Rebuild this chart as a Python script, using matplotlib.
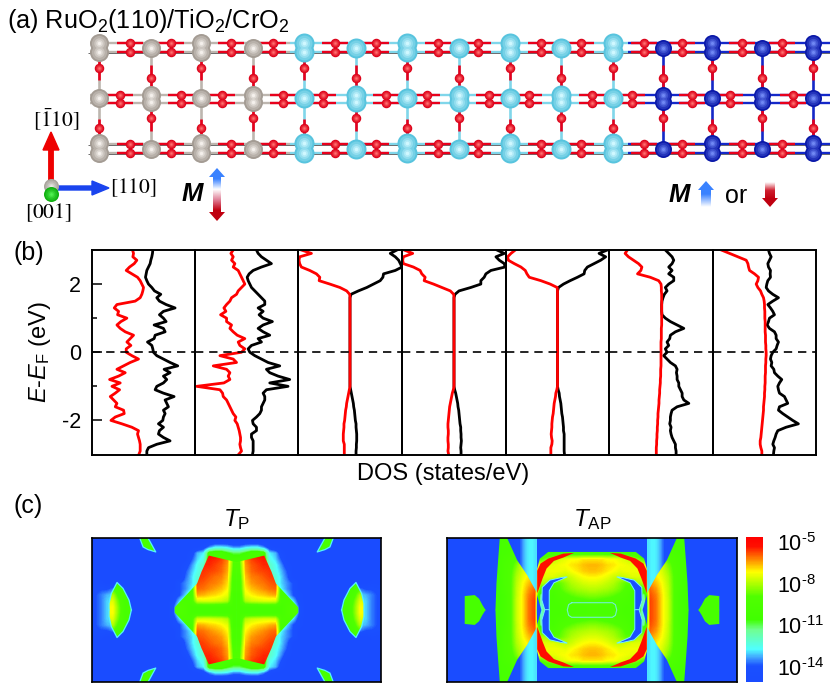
import numpy as np
import matplotlib
matplotlib.use("Agg")
import matplotlib.pyplot as plt
from matplotlib.colors import LinearSegmentedColormap, Normalize, to_rgb
from matplotlib.patches import Polygon

plt.rcParams.update({
    "font.family": "Liberation Sans", "mathtext.fontset": "custom",
    "mathtext.rm": "Liberation Sans", "mathtext.it": "Liberation Sans:italic",
    "mathtext.bf": "Liberation Sans:bold", "axes.unicode_minus": False,
    "mathtext.default": "regular"})

# ---------- panel (b): DOS, energies from +3 to -3 eV, arbitrary DOS units
ENERGY = [3.0,2.9,2.8,2.7,2.6,2.5,2.4,2.3,2.2,2.1,2.0,1.9,1.8,1.7,1.6,1.5,1.4,1.3,1.2,1.1,
          1.0,0.9,0.8,0.7,0.6,0.5,0.4,0.3,0.2,0.1,0.0,
          -0.1,-0.2,-0.3,-0.4,-0.5,-0.6,-0.7,-0.8,-0.9,-1.0,-1.1,-1.2,-1.3,-1.4,-1.5,-1.6,-1.7,-1.8,-1.9,
          -2.0,-2.1,-2.2,-2.3,-2.4,-2.5,-2.6,-2.7,-2.8,-2.9,-3.0]
P1_BLACK = [28,27,25,22,20,15,10,8,6,10,15,25,33,52,40,48,68,95,60,48,60,68,32,60,65,35,32,12,25,28,30,
            40,60,80,103,62,80,60,70,60,40,35,60,92,65,70,75,60,65,60,58,45,60,48,45,60,80,40,15,10,10]
P1_RED = [-33,-30,-32,-20,-28,-42,-52,-35,-18,-10,-5,0,-2,-5,-10,-25,-80,-88,-75,-78,-50,-68,-80,-70,-55,-30,-40,-50,-38,-52,-52,
          -35,-15,-40,-60,-80,-55,-75,-102,-70,-95,-72,-85,-100,-90,-80,-85,-60,-58,-85,-98,-65,-35,-15,-18,-15,-12,-10,-10,-10,-14]
P2_BLACK = [30,35,45,60,75,45,20,8,2,5,10,15,25,35,45,55,55,35,50,38,50,78,50,35,50,70,35,45,15,5,10,
            25,45,65,100,60,70,95,130,70,125,60,50,55,55,50,45,45,40,30,18,20,30,30,15,15,20,20,20,20,18]
P2_RED = [-40,-47,-40,-45,-35,-40,-25,-20,-15,-10,-5,-15,-25,-30,-45,-50,-60,-68,-62,-78,-60,-60,-45,-50,-40,-28,-5,-25,-20,-5,-15,
          -80,-40,-30,-100,-60,-50,-55,-50,-68,-150,-80,-72,-70,-60,-55,-50,-45,-40,-32,-35,-28,-25,-22,-20,-18,-18,-20,-18,-15,-24]
P3_BLACK = [140,120,135,145,150,155,135,100,98,90,70,50,25,3,0,0,0,0,0,0,0,0,0,0,0,0,0,0,0,0,0,
            0,0,0,0,0,0,0,0,0,0,2,4,6,8,10,11,13,14,15,16,18,18,19,20,20,20,19,19,18,18]
P3_RED = [-145,-115,-150,-152,-150,-145,-120,-100,-90,-92,-60,-30,-10,-1,0,0,0,0,0,0,0,0,0,0,0,0,0,0,0,0,0,
          0,0,0,0,0,0,0,0,0,0,-2,-4,-6,-8,-10,-11,-13,-14,-15,-16,-18,-18,-19,-20,-20,-20,-17,-17,-17,-17]
P4_BLACK = [128,150,125,135,150,152,110,95,90,80,80,50,15,3,0,0,0,0,0,0,0,0,0,0,0,0,0,0,0,0,0,
            0,0,0,0,0,0,0,0,0,0,2,5,7,9,11,12,14,15,16,17,18,20,20,21,21,22,21,20,21,21]
P4_RED = [-149,-123,-151,-153,-151,-121,-101,-96,-86,-89,-61,-36,-11,-1,0,0,0,0,0,0,0,0,0,0,0,0,0,0,0,0,0,
          0,0,0,0,0,0,0,0,0,0,-2,-5,-7,-9,-11,-13,-14,-15,-16,-17,-18,-18,-17,-17,-18,-18,-17,-17,-18,-16]
P5_BLACK = [150,125,145,130,110,90,82,80,60,38,18,3,0,0,0,0,0,0,0,0,0,0,0,0,0,0,0,0,0,0,0,
            0,0,0,0,0,0,0,0,0,0,2,5,6,8,10,11,12,13,15,16,17,18,18,20,20,20,20,20,20,21]
P5_RED = [-127,-140,-150,-148,-130,-110,-97,-92,-85,-50,-22,-1,0,0,0,0,0,0,0,0,0,0,0,0,0,0,0,0,0,0,0,
          0,0,0,0,0,0,0,0,0,0,-2,-5,-6,-8,-10,-11,-12,-13,-15,-16,-17,-17,-18,-19,-18,-16,-17,-20,-20,-20]
P6_BLACK = [13,23,33,38,33,23,33,23,38,38,23,13,18,10,6,3,2,2,2,3,13,28,48,68,43,28,26,18,23,13,18,
            8,18,28,43,48,46,48,48,53,53,58,63,63,68,83,48,33,30,28,28,26,30,28,30,33,38,43,43,45,45]
P6_RED = [-100,-107,-97,-82,-67,-57,-60,-70,-32,-7,0,1,1,2,2,2,2,2,2,2,2,2,2,1,1,1,1,0,0,0,0,
          0,0,0,0,-1,-1,-1,-2,-2,-3,-4,-4,-5,-6,-6,-7,-8,-9,-9,-10,-10,-11,-11,-12,-12,-13,-13,-14,-14,-14]
P7_BLACK = [12,15,20,15,10,12,18,17,18,10,7,5,12,25,42,25,10,18,25,30,15,12,8,15,30,35,35,42,38,35,25,
            20,18,22,20,28,30,40,52,45,40,42,45,60,65,70,45,42,55,70,85,102,65,40,35,32,28,25,30,28,27]
P7_RED = [-130,-105,-80,-55,-50,-48,-45,-30,-18,-20,-25,-20,-12,-8,-3,-1,0,0,1,1,1,2,2,2,2,3,3,3,4,4,5,
          5,4,4,3,3,3,2,2,2,1,1,0,0,-1,-2,-3,-3,-4,-5,-6,-7,-8,-9,-10,-11,-13,-13,-11,-8,-8]
DOS_BLACK = [P1_BLACK, P2_BLACK, P3_BLACK, P4_BLACK, P5_BLACK, P6_BLACK, P7_BLACK]
DOS_RED = [P1_RED, P2_RED, P3_RED, P4_RED, P5_RED, P6_RED, P7_RED]
ENERGY_TICKS = [-2, 0, 2]
ENERGY_MINOR = [-1, 1]

# ---------- panel (c): log10 transmission, upper-left quadrant (mirrored to the others)
TP_BACK = [
 [-15,-15,-15,-15,-15,-15,-15,-15,-15,-15,-15,-15,-15,-15,-15,-15,-15,-15,-15,-15,-15,-15,-15,-15],
 [-15,-15,-15,-15,-15,-15,-15,-15,-15,-15,-15,-15,-15,-15,-15,-15,-15,-15,-14.5,-13.5,-12.8,-12.8,-13,-13.5],
 [-15,-15,-15,-15,-15,-15,-15,-15,-15,-15,-15,-15,-15,-15,-15,-15,-14.5,-13.2,-12.8,-10,-9.8,-9.8,-10.5,-11],
 [-15,-15,-15,-15,-15,-15,-15,-15,-15,-15,-15,-15,-15,-15,-15,-15,-14,-13,-12.5,-9.8,-9.8,-9.8,-9.8,-9.8],
 [-15,-15,-15,-15,-15,-15,-15,-15,-15,-15,-15,-15,-15,-15,-15,-14.5,-13.5,-12.6,-12,-9.8,-9.8,-9.8,-9.8,-9.8],
 [-15,-15,-15,-15,-15,-15,-15,-15,-15,-15,-15,-15,-15,-15,-15,-14,-13.2,-12.5,-12,-12,-12,-12,-12,-12],
 [-15,-15,-15,-15,-15,-15,-15,-15,-15,-15,-15,-15,-15,-15,-15,-13.8,-13,-12.2,-12,-12,-12,-12,-12,-12],
 [-14.6,-14.6,-15,-15,-15,-15,-15,-15,-15,-15,-15,-15,-15,-15,-14,-13.5,-13,-12.2,-12,-12,-12,-12,-12,-12],
 [-14.2,-14,-14,-13.6,-15,-15,-15,-15,-15,-15,-15,-15,-15,-15,-14,-13.5,-12.8,-12,-12,-12,-12,-12,-12,-12],
 [-14,-13.6,-13.2,-13,-13,-15,-15,-15,-15,-15,-15,-15,-15,-14.5,-14,-13,-12,-12,-12,-12,-12,-12,-12,-12],
 [-14,-13.6,-13,-12.9,-13,-13.5,-15,-15,-15,-15,-15,-15,-15,-14.5,-13,-12,-12,-12,-12,-12,-12,-12,-12,-12],
 [-14,-13.6,-13,-12.9,-13,-13.5,-15,-15,-15,-15,-15,-15,-15,-14,-12,-12,-12,-12,-12,-12,-12,-12,-12,-12],
]
TP_FRONT = [
 [-9.8,-9.8,-9.8,-9.8,-9.8,-9.8,-9.8,-9.8,-9.8,-9.8,-9.8,-9.8,-9.8,-9.8,-9.8,-9.8,-9.8,-9.8,-5.3,-5.2,-5.3,-5.4,-6,-8.6],
 [-9.8,-9.8,-9.8,-9.8,-9.8,-9.8,-9.8,-9.8,-9.8,-9.8,-9.8,-9.8,-9.8,-9.8,-9.8,-9.8,-9.8,-9.8,-5.3,-5.2,-5.3,-5.4,-6,-8.6],
 [-9.8,-9.8,-9.8,-9.8,-9.8,-9.8,-9.8,-9.8,-9.8,-9.8,-9.8,-9.8,-9.8,-9.8,-9.8,-9.8,-9.8,-9.8,-5.3,-5.2,-5.3,-5.4,-6,-8.6],
 [-9.8,-9.8,-9.8,-9.8,-9.8,-9.8,-9.8,-9.8,-9.8,-9.8,-9.8,-9.8,-9.8,-9.8,-9.8,-9.8,-9.8,-5.5,-5.5,-5.4,-5.5,-5.7,-6.2,-8.8],
 [-9.8,-9.8,-9.8,-9.8,-9.8,-9.8,-9.8,-9.8,-9.8,-9.8,-9.8,-9.8,-9.8,-9.8,-9.8,-9.8,-9.8,-5.5,-5.5,-5.5,-5.7,-5.9,-6.4,-9],
 [-9.8,-9.8,-9.8,-9.8,-9.8,-9.8,-9.8,-9.8,-9.8,-9.8,-9.8,-9.8,-9.8,-9.8,-9.8,-9.8,-9.8,-5.6,-5.6,-5.7,-5.8,-6,-6.5,-9.2],
 [-9.8,-9.8,-9.8,-9.8,-9.8,-9.8,-9.8,-9.8,-9.8,-9.8,-9.8,-9.8,-9.8,-9.8,-9.8,-9.8,-9.8,-5.6,-5.7,-5.9,-6.1,-6.2,-6.7,-9.4],
 [-9.8,-9.8,-9.8,-9.8,-9.8,-9.8,-9.8,-9.8,-9.8,-9.8,-9.8,-9.8,-9.8,-9.8,-9.8,-9.8,-9.8,-5.8,-5.9,-6.1,-6.2,-6.4,-6.9,-9.6],
 [-9.8,-9.8,-9,-9,-9.8,-9.8,-9.8,-9.8,-9.8,-9.8,-9.8,-9.8,-9.8,-9.8,-9.8,-9.8,-9.8,-6,-6.1,-6.3,-6.5,-6.7,-7.1,-9.6],
 [-9.8,-9.8,-8,-8,-9.3,-9.8,-9.8,-9.8,-9.8,-9.8,-9.8,-9.8,-9.8,-9.8,-9.8,-9.8,-9.8,-6.5,-6.6,-6.8,-6.9,-7.1,-7.4,-9.8],
 [-9.8,-9.8,-7.4,-7.5,-8.8,-9.8,-9.8,-9.8,-9.8,-9.8,-9.8,-9.8,-9.8,-9.5,-9.5,-9.5,-9.5,-7.6,-7.5,-7.5,-7.6,-7.7,-8,-9.8],
 [-9.8,-9.8,-7.2,-7.2,-8.6,-9.8,-9.8,-9.8,-9.8,-9.8,-9.8,-9.8,-9.8,-9,-9,-9.3,-9.8,-9.8,-9.8,-9.8,-9.8,-9.8,-9.8,-9.8],
]
TAP_FRONT = [
 [-9.8,-9.8,-9.8,-9.8,-9.8,-9.8,-9.8,-9.8,-10,-9.8,-9.8,-9.8,-9.8,-9.8,-9.8,-9.8,-9.8,-9.8,-9.5,-9.5,-9.5,-9.5,-9.5,-9.5],
 [-9.8,-9.8,-9.8,-9.8,-9.8,-9.8,-9.8,-9.8,-10,-9.8,-9.8,-9.8,-9.8,-9.8,-9.8,-9.8,-9.8,-9.8,-9.5,-9.5,-9.5,-9.5,-9.5,-9.5],
 [-9.8,-9.8,-9.8,-9.8,-9.8,-9.8,-9.8,-9.8,-10,-9.8,-9.6,-9.3,-9,-8.8,-8.5,-9.8,-9.8,-9.8,-9.5,-9.5,-9.5,-9.5,-9.5,-9.5],
 [-9.8,-9.8,-9.8,-9.8,-9.8,-9.8,-9.8,-9.8,-10,-9.6,-9.3,-9,-8.4,-8,-7.6,-9,-8.5,-8,-7.6,-7.4,-7.2,-7.2,-7,-7],
 [-9.8,-9.8,-9.8,-9.8,-9.8,-9.8,-9.8,-9.8,-10,-9.5,-9.2,-8.5,-7.6,-7.2,-7,-7.5,-7.4,-7.4,-7.3,-7.2,-7,-6.9,-6.7,-6.6],
 [-9.8,-9.8,-9.8,-9.8,-9.8,-9.8,-9.8,-9.8,-10,-9.5,-9.1,-8.2,-7.6,-7.1,-6.8,-7.4,-7.3,-7.3,-7.3,-7.4,-7.2,-7,-6.8,-6.7],
 [-9.8,-9.8,-9.8,-9.8,-9.8,-9.8,-9.8,-9.8,-10.2,-9.5,-9,-8,-7.4,-7,-6.6,-7.5,-7.5,-7.5,-7.7,-7.8,-7.7,-7.4,-7.2,-7.1],
 [-9.8,-9.8,-9.8,-9.8,-9.8,-9.8,-9.8,-9.8,-10.3,-9.5,-9,-7.9,-7.2,-6.7,-6.3,-8,-8,-8.8,-8.8,-8.4,-8,-7.8,-7.6,-7.5],
 [-9.8,-9.8,-9.8,-9.8,-9.8,-9.8,-9.8,-9.8,-10.3,-9.6,-9,-7.8,-7.1,-6.4,-6,-9,-9,-9.5,-9,-8.6,-8.3,-8.1,-8,-7.9],
 [-9.8,-9.8,-9.8,-9.8,-9.8,-9.8,-9.8,-9.8,-10.4,-9.8,-9,-7.8,-7,-6.2,-5.8,-11.5,-9.5,-9.8,-9.3,-9,-8.8,-8.6,-8.5,-8.4],
 [-9.8,-9.8,-9.8,-9.8,-9.8,-9.8,-9.8,-9.8,-10.5,-9.8,-9,-7.7,-7,-6.1,-5.7,-12,-9.8,-9.8,-9.6,-9.4,-9.3,-9.2,-9.1,-9],
 [-9.8,-9.8,-9.8,-9.8,-9.8,-9.8,-9.8,-9.8,-10.5,-9.8,-9,-7.7,-7,-6.1,-5.7,-12.5,-9.8,-9.8,-9.8,-9.6,-9.6,-9.6,-9.6,-9.5],
]
TAP_BAND = [[-14.6, -14.4, -14.1, -13.7, -13.2, -12.9, -12.8, -12.8, -12.9]]
TAP_FLOOR = -15
# sharp-edged regions of the upper-left quadrant (3x picture pixels)
TP_REGIONS = [
    [(387,166),(471,186),(471,331),(285,331),(285,322),(352,250),(365,215)],
    [(112,247),(95,280),(88,310),(88,331),(155,331),(148,300),(130,265)],
    [(180,113),(205,113),(228,155),(205,148),(190,140)],
]
TP_OUTLINED = [
    [(88,330),(88,310),(95,280),(112,247),(130,265),(148,300),(155,330)],
    [(180,113),(190,140),(205,148),(228,155),(205,113)],
]
TAP_REGIONS = [
    [(210,113),(232,113),(262,180),(292,225),(322,280),(320,331),(197,331),(200,250),(205,180)],
    [(320,280),(322,205),(330,175),(355,155),(487,155),(487,331),(335,331)],
    [(105,288),(135,285),(148,296),(158,315),(168,331),(105,331)],
]
TAP_CRESCENT = [(322,280),(322,212),(332,190),(355,175),(400,160),(432,158),(400,172),(372,182),(350,205),(338,235),(330,258)]
TAP_CRESCENT_VALUE = -5.2
TAP_STREAK = [(337,262),(360,240),(395,232),(412,230),(372,248),(358,272),(358,331),(345,331),(336,300)]
TAP_STREAK_VALUE = -14.2
TAP_RING = [(425,308),(547,308),(556,314),(560,330),(556,346),(547,352),(425,352),(416,346),(412,330),(416,314),(425,308)]
CBAR_TICKS = [-5, -8, -11, -14]
CBAR_LABELS = ["10$^{\\text{-5}}$", "10$^{\\text{-8}}$", "10$^{\\text{-11}}$", "10$^{\\text{-14}}$"]

# ---------- panel (a): atom columns of the slab, in picture pixels
RU_A, RU_B = [99, 201], [151, 253]
TI_A, TI_B = [304, 407, 510, 613], [356, 459, 561]
CR_A, CR_B = [712, 813], [663, 762]
A_Y, B_Y = [43, 52, 98, 143, 153], [48, 95, 102, 149]
O_OUTER_X = [130,171,231,273,335,376,438,478,541,581,644,682,742,782]
O_INNER_X = [120,181,222,283,323,386,427,489,529,592,632,692,730,793]
O_OUTER_Y = [43, 52, 144, 153]
O_INNER_Y = [95, 103]
O_VERT_A_Y = [68, 128]
O_VERT_B_Y = [78, 118]

W, H = 830, 697
fig = plt.figure(figsize=(W/100, H/100), dpi=100)
bg = fig.add_axes([0, 0, 1, 1])
bg.axis("off")

def lines(xs, ys, color, lw, z):
    bg.plot(xs, ys, color=color, lw=lw, zorder=z, solid_capstyle="butt")

RU_C, TI_C, CR_C, O_C = "#b5aea7", "#80d6ea", "#1428c8", "#e8001c"
for y in [43, 52, 95, 103, 144, 153]:
    lines([90, 290], [y, y], "#bdb6af", 1.7, 1)
    lines([290, 628], [y, y], TI_C, 1.7, 1)
    lines([628, 836], [y, y], CR_C, 1.7, 1)
for y in [52, 144, 153]:
    lines([88, 838], [y+0.8, y+0.8], "#555555", 0.6, 1.1)
for xs, ys in [(O_OUTER_X, O_OUTER_Y), (O_INNER_X, O_INNER_Y)]:
    for x in xs:
        for y in ys:
            lines([x-13, x+13], [y, y], O_C, 1.7, 1.2)
for cols, col in [(RU_A+RU_B, "#bdb6af"), (TI_A+TI_B, TI_C), (CR_A+CR_B, CR_C)]:
    for x in cols:
        lines([x, x], [48, 150], col, 1.9, 1)
for x in RU_A+TI_A+CR_A:
    for y in O_VERT_A_Y:
        lines([x, x], [y-9, y+12], O_C, 1.9, 1.2)
for x in RU_B+TI_B+CR_B:
    for y in O_VERT_B_Y:
        lines([x, x], [y-13, y+13], O_C, 1.9, 1.2)

def sphere(x, y, d, base, light, z):
    steps = [1.0, 0.8, 0.55, 0.35, 0.18]
    b, l = np.array(to_rgb(base)), np.array(to_rgb(light))
    for k, f in enumerate(steps):
        c = b + (l-b)*k/(len(steps)-1)
        bg.scatter([x], [y], s=(d*f*0.72)**2, color=[c], lw=0, zorder=z+k*0.01)

def metal(a, b, d, base, light):
    for x in b:
        for y in B_Y:
            sphere(x, y, d, base, light, 3)
    for x in a:
        for y in A_Y:
            sphere(x, y, d, base, light, 3)

O_BASE, O_LIGHT = "#dc0018", "#ff7070"
for xs, ys in [(O_OUTER_X, O_OUTER_Y), (O_INNER_X, O_INNER_Y)]:
    for x in xs:
        for y in ys:
            sphere(x, y, 9.5, O_BASE, O_LIGHT, 2)
for x in RU_A+TI_A+CR_A:
    for y in O_VERT_A_Y:
        sphere(x, y, 9.5, O_BASE, O_LIGHT, 2)
for x in RU_B+TI_B+CR_B:
    for y in O_VERT_B_Y:
        sphere(x, y, 9.5, O_BASE, O_LIGHT, 2)
metal(RU_A, RU_B, 19, "#a49c94", "#f4f0ec")
metal(TI_A, TI_B, 20, "#58c4de", "#d0f8ff")
metal(CR_A, CR_B, 17, "#0a18a8", "#7088f4")

bg.add_patch(Polygon([(48.8,188),(48.8,150),(43,150),(51,132),(59,150),(53.2,150),(53.2,188)], color="#ee0000", zorder=5))
bg.add_patch(Polygon([(51,186),(92,186),(92,181),(109,188),(92,195),(92,190),(51,190)], color="#1a44ee", zorder=5))
sphere(51, 186, 15, "#a8a49c", "#e8e8e4", 6)
sphere(51, 194, 15, "#10b010", "#50f050", 6.5)
for s, x, y in [(r"$\mathrm{[\bar{1}10]}$", 56, 120), (r"$\mathrm{[110]}$", 133, 188), (r"$\mathrm{[001]}$", 48, 213)]:
    bg.text(x, y, s, ha="center", va="center", fontsize=15.5, math_fontfamily="stix", zorder=7)

def grad_arrow(poly, ext, colors):
    cm = LinearSegmentedColormap.from_list("g", colors)
    im = bg.imshow(np.linspace(0, 1, 100)[:, None], extent=ext, cmap=cm, aspect="auto", zorder=5, origin="upper")
    p = Polygon(poly, transform=bg.transData, fc="none", ec="none")
    bg.add_patch(p)
    im.set_clip_path(p)

grad_arrow([(217,168),(225,177),(221,177),(221,212),(225,212),(217,221),(209,212),(213,212),(213,177),(209,177)],
           (209, 225, 221, 168), ["#3a82ff", "#3a82ff", "#ffffff", "#e08098", "#c00010", "#c00010"])
grad_arrow([(706,181),(714,190),(711,190),(711,207),(701,207),(701,190),(698,190)],
           (698, 714, 207, 181), ["#3a82ff", "#3a82ff", "#ffffff"])
grad_arrow([(770,207),(778,198),(775,198),(775,182),(765,182),(765,198),(762,198)],
           (762, 778, 207, 182), ["#ffffff", "#d02030", "#c00010", "#c00010"])
bg.set_xlim(0, W)
bg.set_ylim(H, 0)

bg.text(7, 21, "(a) RuO$_2$(110)/TiO$_2$/CrO$_2$", fontsize=18.2, ha="left", va="center")
bg.text(13, 253, "(b)", fontsize=18, ha="left", va="center")
bg.text(13, 506, "(c)", fontsize=18, ha="left", va="center")
for s, x, y in [("M", 192, 194), ("M", 679, 195)]:
    bg.text(x, y, s, fontsize=18.5, fontweight="bold", style="italic", ha="center", va="center")
bg.text(736, 196, "or", fontsize=18, ha="center", va="center")
bg.text(443, 474, "DOS (states/eV)", fontsize=17, ha="center", va="center")
bg.text(40, 352, "$\\mathit{E}$-$\\mathit{E}_{F}$ (eV)", fontsize=17, rotation=90, ha="center", va="center")
bg.text(237, 520, "$\\mathit{T}_{P}$", fontsize=17.5, ha="center", va="center")
bg.text(592, 520, "$\\mathit{T}_{AP}$", fontsize=17.5, ha="center", va="center")

def frac(x0, y0, x1, y1):
    return [x0/W, 1-y1/H, (x1-x0)/W, (y1-y0)/H]

edges = [92, 195, 298, 402, 506, 609, 713, 816]
for i, (black, red) in enumerate(zip(DOS_BLACK, DOS_RED)):
    ax = fig.add_axes(frac(edges[i], 250, edges[i+1], 454.5))
    ax.patch.set_alpha(0)
    ax.plot(black, ENERGY, color="black", lw=2.0, solid_joinstyle="round")
    ax.plot(red, ENERGY, color="#ff0000", lw=2.0, solid_joinstyle="round")
    ax.axhline(0, color="black", lw=1.2, dashes=(5, 3.5))
    ax.set_xlim(-155, 155)
    ax.set_ylim(-3, 3)
    ax.set_xticks([])
    for sp in ax.spines.values():
        sp.set_linewidth(1.4)
    if i == 0:
        ax.set_yticks(ENERGY_TICKS)
        ax.set_yticks(ENERGY_MINOR, minor=True)
        ax.tick_params(axis="y", which="major", direction="in", length=7, width=1.1, labelsize=15.5, pad=8)
        ax.tick_params(axis="y", which="minor", direction="in", length=3.5, width=1.1)
    else:
        ax.set_yticks([])

CMAP = LinearSegmentedColormap.from_list("t", [
    (0.0, "#1a4cff"), (0.11, "#1a50ff"), (0.167, "#40a0ff"), (0.225, "#50ffff"), (0.36, "#70ff90"),
    (0.43, "#40ff00"), (0.59, "#50ff00"), (0.68, "#b0ff00"), (0.76, "#ffff00"), (0.84, "#ff9000"),
    (0.935, "#ff1000"), (1.0, "#ff0000")], N=256)
VMIN, VMAX = -15.1, -4.64
NORM = Normalize(VMIN, VMAX)

def full_map(q):
    q = np.array(q, dtype=float)
    top = np.hstack([q, q[:, ::-1]])
    return np.vstack([top, top[::-1]])

def show(ax, grid, ext, z=1):
    return ax.imshow(grid, cmap=CMAP, norm=NORM, aspect="auto", extent=ext, zorder=z,
                     interpolation="bilinear", interpolation_stage="data")

def flips(poly, cx, cy=330):
    for sx in (1, -1):
        for sy in (1, -1):
            yield [(cx+sx*(x-cx), cy+sy*(y-cy)) for x, y in poly]

def clipped(ax, grid, ext, regions, cx):
    for poly in regions:
        for pts in flips(poly, cx):
            im = show(ax, grid, ext, 2)
            p = Polygon(pts, transform=ax.transData, fc="none", ec="none")
            ax.add_patch(p)
            im.set_clip_path(p)

def frame(ax, ext):
    ax.set_xlim(ext[0], ext[1])
    ax.set_ylim(ext[2], ext[3])
    ax.set_xticks([])
    ax.set_yticks([])
    for sp in ax.spines.values():
        sp.set_linewidth(1.2)
        sp.set_zorder(10)

# T_P
ext = (37, 903, 547, 113)
cx = 470
ax = fig.add_axes(frac(92, 538, 381, 682))
show(ax, full_map(TP_BACK), ext, 1)
clipped(ax, full_map(TP_FRONT), ext, TP_REGIONS, cx)
for line in TP_OUTLINED:
    for pts in flips(line, cx):
        ax.plot(*zip(*pts), color="#55f0ff", lw=0.9, zorder=3)
frame(ax, ext)

# T_AP
ext = (52, 920, 547, 113)
cx = 486
ax = fig.add_axes(frac(447, 538, 737, 682))
ax.set_facecolor(CMAP(NORM(TAP_FLOOR)))
band = np.array(TAP_BAND)
show(ax, band, (245, 320, 547, 113), 1)
show(ax, band[:, ::-1], (652, 727, 547, 113), 1)
clipped(ax, full_map(TAP_FRONT), ext, TAP_REGIONS, cx)
for pts in flips(TAP_CRESCENT, cx):
    ax.add_patch(Polygon(pts, fc=CMAP(NORM(TAP_CRESCENT_VALUE)), ec="none", zorder=3))
for pts in flips(TAP_STREAK, cx):
    ax.add_patch(Polygon(pts, fc=CMAP(NORM(TAP_STREAK_VALUE)), ec="#70f0ff", lw=0.7, zorder=3))
ax.plot(*zip(*TAP_RING), color="#70f0d0", lw=0.8, zorder=3)
frame(ax, ext)

sm = plt.cm.ScalarMappable(norm=NORM, cmap=CMAP)
cax = fig.add_axes(frac(746, 537, 763, 682))
cb = fig.colorbar(sm, cax=cax)
cb.set_ticks(CBAR_TICKS)
cb.set_ticklabels(CBAR_LABELS)
cb.outline.set_visible(False)
cax.tick_params(length=0, labelsize=15.5, pad=10)

fig.savefig("out.png", dpi=100)
